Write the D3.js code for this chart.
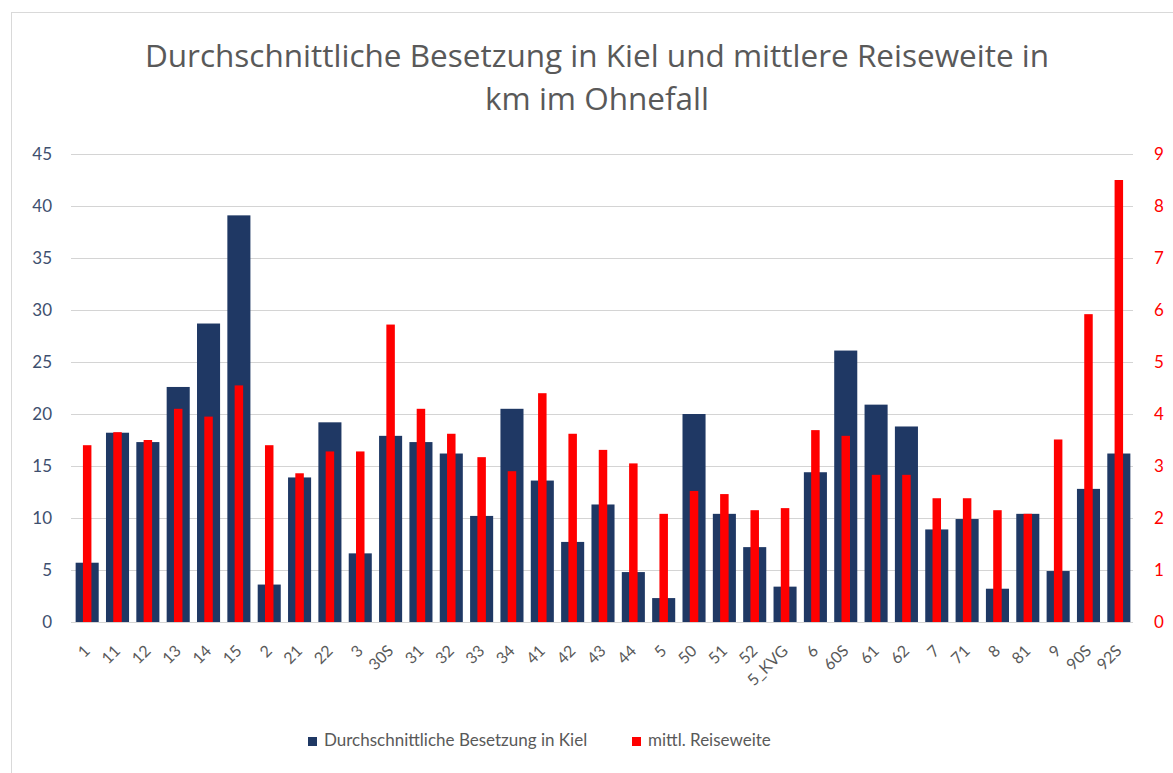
<!DOCTYPE html>
<html>
<head>
<meta charset="utf-8">
<script src="https://cdn.jsdelivr.net/npm/d3@7"></script>
<style>
  html, body { margin: 0; padding: 0; background: #fff; }
  svg { display: block; }
</style>
</head>
<body>
<svg id="chart" width="1173" height="773"></svg>
<script>
// Linien (categories)
const lines = ["1","11","12","13","14","15","2","21","22","3","30S","31","32","33","34",
  "41","42","43","44","5","50","51","52","5_KVG","6","60S","61","62","7","71","8","81","9","90S","92S"];

// Durchschnittliche Besetzung in Kiel (left axis)
const besetzung = [5.7,18.2,17.3,22.6,28.7,39.1,3.6,13.9,19.2,6.6,17.9,17.3,16.2,10.2,20.5,
  13.6,7.7,11.3,4.8,2.3,20.0,10.4,7.2,3.4,14.4,26.1,20.9,18.8,8.9,9.9,3.2,10.4,4.9,12.8,16.2];

// mittl. Reiseweite in km (right axis)
const reiseweite = [3.40,3.65,3.50,4.10,3.95,4.55,3.40,2.86,3.28,3.28,5.72,4.10,3.62,3.17,2.90,
  4.40,3.62,3.31,3.05,2.08,2.52,2.46,2.15,2.19,3.69,3.58,2.83,2.83,2.38,2.38,2.15,2.08,3.51,5.92,8.50];

const leftTicks = [0,5,10,15,20,25,30,35,40,45];
const rightTicks = [0,1,2,3,4,5,6,7,8,9];

const titleLines = ["Durchschnittliche Besetzung in Kiel und mittlere Reiseweite in", "km im Ohnefall"];
const legendItems = [
  { label: "Durchschnittliche Besetzung in Kiel", color: "#1F3864" },
  { label: "mittl. Reiseweite", color: "#FF0000" }
];

const font = "Lato, 'Open Sans', sans-serif";
const titleFont = "'Open Sans', Lato, sans-serif";
const svg = d3.select("#chart");

// chart frame
svg.append("rect")
  .attr("x", 11.5).attr("y", 12.5)
  .attr("width", 1180).attr("height", 800)
  .attr("fill", "none").attr("stroke", "#D9D9D9").attr("stroke-width", 1);

const plot = { left: 71, right: 1133, top: 154, bottom: 622 };

const x = d3.scaleBand().domain(lines).range([plot.left, plot.right]).padding(0);
const yL = d3.scaleLinear().domain([0, 45]).range([plot.bottom, plot.top]);
const yR = d3.scaleLinear().domain([0, 9]).range([plot.bottom, plot.top]);

// gridlines
svg.append("g")
  .selectAll("line")
  .data(leftTicks)
  .join("line")
  .attr("x1", plot.left).attr("x2", plot.right)
  .attr("y1", d => Math.round(yL(d)) + 0.5)
  .attr("y2", d => Math.round(yL(d)) + 0.5)
  .attr("stroke", "#D4D4D4").attr("stroke-width", 1);

// left axis
const axL = svg.append("g")
  .attr("transform", `translate(${plot.left - 19},0)`)
  .call(d3.axisLeft(yL).tickValues(leftTicks).tickSize(0).tickPadding(0));
axL.select(".domain").remove();
axL.selectAll("text")
  .attr("font-family", font).attr("font-size", 17)
  .attr("fill", "#3E4F6E");

// right axis
const axR = svg.append("g")
  .attr("transform", `translate(${plot.right + 21},0)`)
  .call(d3.axisRight(yR).tickValues(rightTicks).tickSize(0).tickPadding(0));
axR.select(".domain").remove();
axR.selectAll("text")
  .attr("font-family", font).attr("font-size", 17)
  .attr("fill", "#FF0000");

// bars: Besetzung
const bw = x.bandwidth();
svg.append("g")
  .selectAll("rect")
  .data(lines)
  .join("rect")
  .attr("x", (d) => x(d) + bw / 2 - bw * 0.38 + 1)
  .attr("width", bw * 0.76)
  .attr("y", (d, i) => yL(besetzung[i]))
  .attr("height", (d, i) => yL(0) - yL(besetzung[i]))
  .attr("fill", "#1F3864");

// bars: Reiseweite
svg.append("g")
  .selectAll("rect")
  .data(lines)
  .join("rect")
  .attr("x", (d) => x(d) + bw / 2 - bw * 0.14 + 1)
  .attr("width", bw * 0.28)
  .attr("y", (d, i) => yR(reiseweite[i]))
  .attr("height", (d, i) => yR(0) - yR(reiseweite[i]))
  .attr("fill", "#FF0000");

// baseline
svg.append("line")
  .attr("x1", plot.left).attr("x2", plot.right)
  .attr("y1", plot.bottom + 0.5).attr("y2", plot.bottom + 0.5)
  .attr("stroke", "#D4D4D4");

// category axis, labels at -45°
const axX = svg.append("g")
  .attr("transform", `translate(0,${plot.bottom})`)
  .call(d3.axisBottom(x).tickSize(0).tickPadding(0));
axX.select(".domain").remove();
axX.selectAll("text")
  .attr("font-family", font).attr("font-size", 16)
  .attr("fill", "#595959")
  .attr("text-anchor", "end")
  .attr("dy", null)
  .attr("transform", "translate(2,27) rotate(-45)")
  .attr("dominant-baseline", "middle");

// title
svg.append("g")
  .selectAll("text")
  .data(titleLines)
  .join("text")
  .attr("x", 597)
  .attr("y", (d, i) => 67 + i * 43)
  .attr("text-anchor", "middle")
  .attr("font-family", titleFont).attr("font-size", 31.5)
  .attr("fill", "#595959")
  .text(d => d);

// legend
const legendX = [308, 632];
const lg = svg.append("g");
legendItems.forEach((it, i) => {
  lg.append("rect")
    .attr("x", legendX[i]).attr("y", 737)
    .attr("width", 9).attr("height", 9)
    .attr("fill", it.color);
  lg.append("text")
    .attr("x", legendX[i] + 16).attr("y", 742)
    .attr("dominant-baseline", "middle")
    .attr("font-family", font).attr("font-size", 17)
    .attr("fill", "#595959")
    .text(it.label);
});
</script>
</body>
</html>
